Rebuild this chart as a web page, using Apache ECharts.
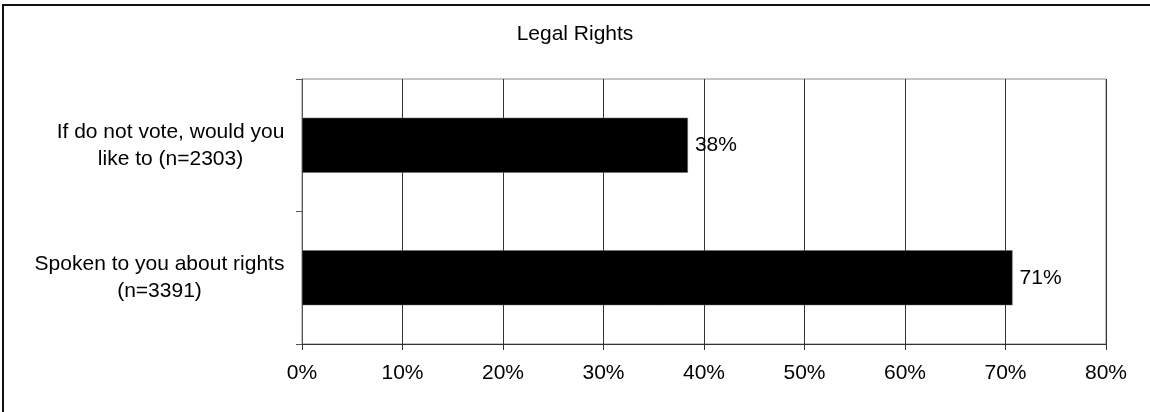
<!DOCTYPE html>
<html>
<head>
<meta charset="utf-8">
<title>Legal Rights</title>
<script src="https://cdn.jsdelivr.net/npm/echarts@6/dist/echarts.min.js"></script>
<style>
  html, body { margin: 0; padding: 0; background: #fff; overflow: hidden; }
  #chart { position: absolute; left: 0; top: 0; width: 1150px; height: 412px; }
  #frame { position: absolute; left: 2px; top: 4px; width: 1170px; height: 430px;
           border: 2px solid #111; pointer-events: none; }
</style>
</head>
<body>
<div id="chart"></div>
<div id="frame"></div>
<script>
// categories top to bottom
var categories = [
  'If do not vote, would you\nlike to (n=2303)',
  'Spoken to you about rights\n(n=3391)'
]
// percent values
var values = [38.4, 70.7]
var xTicks = [0, 10, 20, 30, 40, 50, 60, 70, 80]

var FONT = 'Arial, "Liberation Sans", sans-serif'
var FONT_SIZE = 21

// measure each label's widest line so lines can be centred like the original
var ctx = document.createElement('canvas').getContext('2d')
ctx.font = FONT_SIZE + 'px ' + FONT
var rich = {}
categories.forEach(function (c, i) {
  var w = 0
  c.split('\n').forEach(function (line) {
    w = Math.max(w, ctx.measureText(line).width)
  })
  rich['c' + i] = { width: Math.ceil(w) + 1, align: 'center', fontSize: FONT_SIZE, fontFamily: FONT, color: '#000', lineHeight: 27 }
})

var chart = echarts.init(document.getElementById('chart'), null, { renderer: 'canvas' })

chart.setOption({
  animation: false,
  backgroundColor: '#fff',
  textStyle: { fontFamily: FONT },
  title: {
    text: 'Legal Rights',
    left: 'center',
    top: 19,
    textStyle: { fontSize: FONT_SIZE, fontWeight: 'normal', color: '#000', fontFamily: FONT }
  },
  grid: {
    left: 302,
    right: 44,
    top: 79,
    bottom: 68,
    show: true,
    borderColor: '#888',
    borderWidth: 1,
    containLabel: false
  },
  xAxis: {
    type: 'value',
    min: xTicks[0],
    max: xTicks[xTicks.length - 1],
    interval: 10,
    axisLine: { show: true, lineStyle: { color: '#333', width: 1 } },
    axisTick: { show: true, length: 6, lineStyle: { color: '#333' } },
    axisLabel: {
      margin: 19,
      color: '#000',
      fontSize: FONT_SIZE,
      fontFamily: FONT,
      formatter: '{value}%'
    },
    splitLine: { show: true, lineStyle: { color: '#333', width: 1 } }
  },
  yAxis: {
    type: 'category',
    inverse: true,
    data: categories,
    axisLine: { show: true, lineStyle: { color: '#555', width: 1 } },
    axisTick: { show: true, length: 6, lineStyle: { color: '#555' } },
    axisLabel: {
      margin: 17,
      color: '#000',
      fontSize: FONT_SIZE,
      fontFamily: FONT,
      lineHeight: 27,
      formatter: function (val, idx) {
        return val.split('\n').map(function (line) {
          return '{c' + idx + '|' + line + '}'
        }).join('\n')
      },
      rich: rich
    },
    splitLine: { show: false }
  },
  series: [{
    type: 'bar',
    data: values,
    barWidth: 55,
    itemStyle: { color: '#000', borderColor: '#666', borderWidth: 0.5 },
    label: {
      show: true,
      position: 'right',
      distance: 7,
      color: '#000',
      fontSize: FONT_SIZE,
      fontFamily: FONT,
      formatter: function (p) { return Math.round(p.value) + '%' }
    }
  }]
})
</script>
</body>
</html>
